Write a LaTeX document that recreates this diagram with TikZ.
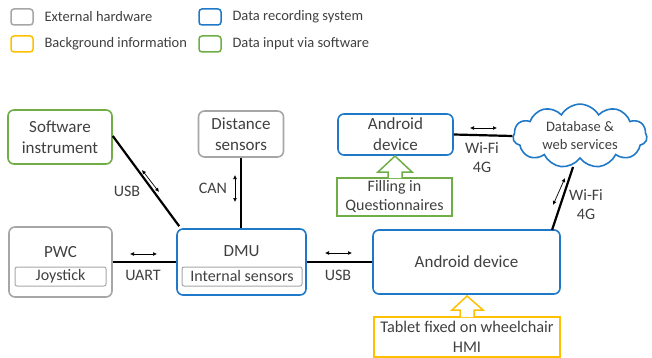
\documentclass[tikz,border=0pt]{standalone}
\usepackage{fontspec}
\setmainfont{Carlito}
\usetikzlibrary{shapes.symbols,arrows.meta}
\definecolor{hwgrey}{HTML}{A6A6A6}
\definecolor{dblue}{HTML}{1F78C8}
\definecolor{bgyel}{HTML}{FFC000}
\definecolor{swgreen}{HTML}{70AD47}
\definecolor{txt}{HTML}{404040}
\begin{document}
\begin{tikzpicture}[x=1pt,y=-1pt,
  every node/.style={text=txt},
  box/.style={draw,rounded corners=6pt,line width=1.6pt,inner sep=0pt,align=center,font=\fontsize{17}{21}\selectfont},
  hw/.style={box,draw=hwgrey},
  ds/.style={box,draw=dblue},
  sw/.style={box,draw=swgreen},
  inner/.style={draw=hwgrey,rounded corners=2pt,line width=1pt,inner sep=0pt,font=\fontsize{16}{18}\selectfont},
  leg/.style={rounded corners=3pt,line width=1.5pt,minimum width=22pt,minimum height=16pt,inner sep=0pt},
  legtext/.style={anchor=west,font=\fontsize{14.5}{16}\selectfont},
  conn/.style={line width=2.2pt,black},
  small/.style={{Latex[length=4pt,width=4pt]}-{Latex[length=4pt,width=4pt]},line width=0.7pt},
  lbl/.style={font=\fontsize{16}{19}\selectfont,align=center}]
\useasboundingbox (0,0) rectangle (652,358);
% legend
\node[leg,draw=hwgrey] (l1) at (22,17) {};
\node[legtext] (l1t) at (41,17) {External hardware};
\node[leg,draw=bgyel] (l2) at (22,44) {};
\node[legtext] (l2t) at (41,44) {Background information};
\node[leg,draw=dblue] (l3) at (210,17) {};
\node[legtext] (l3t) at (229,17) {Data recording system};
\node[leg,draw=swgreen] (l4) at (210,44) {};
\node[legtext] (l4t) at (229,44) {Data input via software};
% boxes
\node[sw,minimum width=104pt,minimum height=54pt] (sw) at (60,137) {Software\\instrument};
\node[hw,minimum width=85pt,minimum height=46pt] (dist) at (241,134) {Distance\\sensors};
\node[hw,minimum width=103pt,minimum height=70pt] (pwc) at (60.5,262) {};
\node (pwct) at (60.5,252) {\fontsize{17}{19}\selectfont PWC};
\node[inner,minimum width=91pt,minimum height=19pt] (joy) at (60.5,276.5) {Joystick};
\node[ds,minimum width=129pt,minimum height=66pt] (dmu) at (241.5,262) {};
\node (dmut) at (241.5,251) {\fontsize{17}{19}\selectfont DMU};
\node[inner,minimum width=120pt,minimum height=19pt] (ints) at (242,276.5) {Internal sensors};
\node[ds,minimum width=187pt,minimum height=64pt] (and) at (466.5,262) {Android device};
\node[ds,minimum width=115pt,minimum height=41pt] (and2) at (395.5,134.5) {Android\\device};
\node[sw,rounded corners=0pt,minimum width=115pt,minimum height=38pt,font=\fontsize{16}{19}\selectfont] (fill) at (394.5,197) {Filling in\\Questionnaires};
\node[draw=bgyel,line width=1.6pt,minimum width=186pt,minimum height=40pt,inner sep=0pt,align=center,font=\fontsize{16.3}{19.5}\selectfont] (tab) at (467,337) {Tablet fixed on wheelchair\\HMI};
\node[cloud,draw=dblue,line width=1.6pt,cloud puffs=11,cloud puff arc=120,aspect=2.2,minimum width=134pt,minimum height=62pt,inner sep=0pt,align=center,font=\fontsize{14.5}{18}\selectfont] (cloud) at (580,136) {Database \&\\web services};
% block arrows
\draw[swgreen,line width=1.5pt,fill=white] (388,178) -- (388,172) -- (378,172) -- (395,156) -- (412,172) -- (402,172) -- (402,178);
\draw[bgyel,line width=1.5pt,fill=white] (460,317) -- (460,310) -- (452,310) -- (467,296) -- (483,310) -- (474,310) -- (474,317);
% connectors
\coordinate (swc) at ([yshift=1pt]sw.east);
\coordinate (dmc) at ([xshift=3pt,yshift=2pt]dmu.north west);
\draw[conn] (swc) -- (dmc);
\draw[conn] (dist.south) -- (dist.south |- dmu.north);
\draw[conn] (pwc.east) -- (dmu.west);
\draw[conn] (dmu.east) -- (and.west);
\draw[conn] (and2.east) -- (cloud.west);
\coordinate (cb) at (573,167);
\coordinate (at) at (552,230);
\draw[conn] (cb) -- (at);
% small arrows and labels
\coordinate (a1s) at (142,170); \coordinate (a1e) at (159,192);
\draw[small] (a1s) -- (a1e);
\node[lbl] (usb1) at (127,191) {USB};
\coordinate (a2s) at (235,175); \coordinate (a2e) at (235,202);
\draw[small] (a2s) -- (a2e);
\node[lbl] (can) at (213,188) {CAN};
\coordinate (a3s) at (130,254); \coordinate (a3e) at (157,254);
\draw[small] (a3s) -- (a3e);
\node[lbl] (uart) at (143,275) {UART};
\coordinate (a4s) at (325,253); \coordinate (a4e) at (352,253);
\draw[small] (a4s) -- (a4e);
\node[lbl] (usb2) at (338,275) {USB};
\coordinate (a5s) at (470,128); \coordinate (a5e) at (497,128);
\draw[small] (a5s) -- (a5e);
\node[lbl] (wifi1) at (482,158) {Wi-Fi\\4G};
\coordinate (a6s) at (565,178); \coordinate (a6e) at (553,205);
\draw[small] (a6s) -- (a6e);
\node[lbl] (wifi2) at (586,205) {Wi-Fi\\4G};
\end{tikzpicture}
\end{document}
